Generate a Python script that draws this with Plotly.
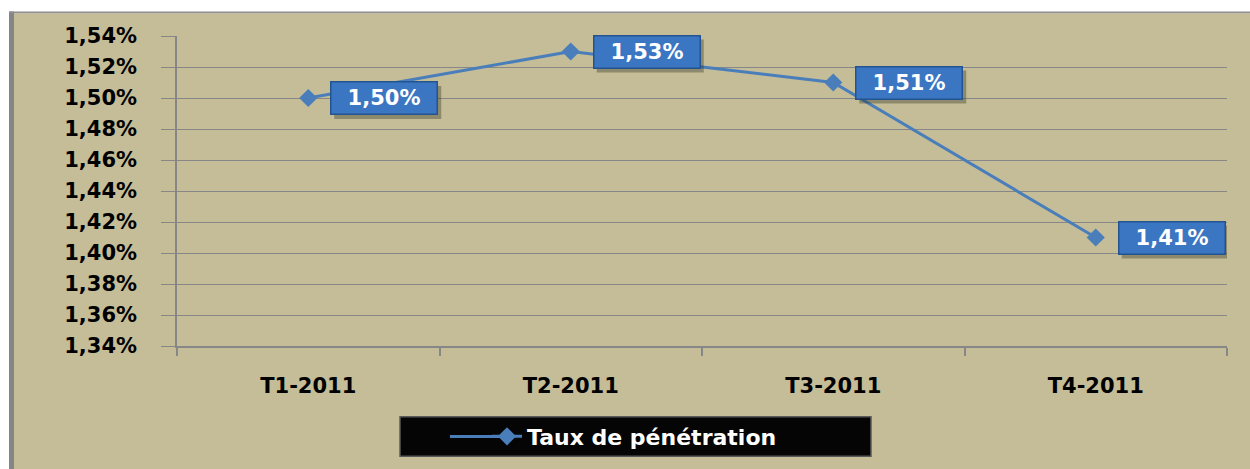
import plotly.graph_objects as go

# ---- data ----
categories = ["T1-2011", "T2-2011", "T3-2011", "T4-2011"]
values = [1.50, 1.53, 1.51, 1.41]  # percent
value_labels = ["1,50%", "1,53%", "1,51%", "1,41%"]
series_name = "Taux de pénétration"

# ---- geometry helpers (reference pixel -> paper) ----
W, H = 1250, 469
PL, PR, PT, PB = 177, 1227, 36, 351  # plot area in reference pixels
L, R, T, B = PL, W - PR, PT, H - PB
PW, PH = PR - PL, PB - PT


def fx(px):
    return (px - PL) / PW


def fy(py):
    return 1 - (py - PT) / PH


TAN = "#C4BD98"
BLUE = "#4A7EBB"
GRID = "#878787"
FONT = "DejaVu Sans"

fig = go.Figure()
fig.add_trace(go.Scatter(
    x=categories, y=values, mode="lines+markers", name=series_name,
    line=dict(color=BLUE, width=3),
    marker=dict(symbol="diamond", size=14, color=BLUE),
    cliponaxis=False,
))

shapes = [
    # tan chart background
    dict(type="rect", xref="paper", yref="paper", x0=fx(14), x1=fx(1260), y0=fy(13), y1=fy(480),
         fillcolor=TAN, line=dict(width=0), layer="below"),
    # left grey border
    dict(type="rect", xref="paper", yref="paper", x0=fx(9), x1=fx(14), y0=fy(11), y1=fy(480),
         fillcolor="#858585", line=dict(width=0), layer="below"),
    # top grey border
    dict(type="rect", xref="paper", yref="paper", x0=fx(9), x1=fx(1260), y0=fy(11), y1=fy(13),
         fillcolor="#8E8E8E", line=dict(width=0), layer="below"),
    # legend black box
    dict(type="rect", xref="paper", yref="paper", x0=fx(400), x1=fx(871), y0=fy(423), y1=fy(463),
         fillcolor="#050505", line=dict(color="#5A5A5A", width=1.5), layer="above"),
    # legend line extension
    dict(type="line", xref="paper", yref="paper", x0=fx(450), x1=fx(500), y0=fy(443), y1=fy(443),
         line=dict(color=BLUE, width=3), layer="above"),
]

for c, v, lab in zip(categories, values, value_labels):
    # soft drop shadow behind each label box
    shapes.append(dict(
        type="rect", xref="x", yref="y", xsizemode="pixel", ysizemode="pixel",
        xanchor=c, yanchor=v, x0=26, x1=133, y0=-21, y1=12,
        fillcolor="rgba(40,40,30,0.35)", line=dict(width=0), layer="above",
    ))
    fig.add_annotation(
        x=c, y=v, xref="x", yref="y", text=lab, showarrow=False,
        xanchor="left", yanchor="middle", xshift=22,
        width=103, height=29, borderpad=1,
        bgcolor="#3B76C2", bordercolor="#24548F", borderwidth=1.5,
        font=dict(family=FONT, size=21, color="white", weight="bold"),
    )

fig.update_layout(
    width=W, height=H,
    margin=dict(l=L, r=R, t=T, b=B, pad=0),
    paper_bgcolor="white",
    plot_bgcolor="rgba(0,0,0,0)",
    separators=", ",
    shapes=shapes,
    showlegend=True,
    legend=dict(
        orientation="h", x=fx(487), xanchor="left", y=fy(443), yanchor="middle",
        bgcolor="rgba(0,0,0,0)", borderwidth=0,
        font=dict(family=FONT, size=22, color="white", weight="bold"),
        itemwidth=30,
    ),
    xaxis=dict(
        type="category", range=[-0.5, 3.5],
        showgrid=False, showline=True, linecolor=GRID, linewidth=1.5,
        ticks="outside", tickson="boundaries", ticklen=8, tickcolor=GRID, tickwidth=1.5,
        ticklabelstandoff=20,
        tickfont=dict(family=FONT, size=21, color="black", weight="bold"),
    ),
    yaxis=dict(
        range=[1.34, 1.54], dtick=0.02, tick0=1.34, tickformat=".2f", ticksuffix="%",
        showgrid=True, gridcolor=GRID, gridwidth=1.2,
        showline=True, linecolor=GRID, linewidth=1.5,
        ticks="outside", ticklen=14, tickcolor=GRID, tickwidth=1.2,
        ticklabelstandoff=20, zeroline=False,
        tickfont=dict(family=FONT, size=21, color="black", weight="bold"),
    ),
)

fig.write_html(
    "out.html",
    config={"displayModeBar": False},
    post_script="document.body.style.margin='0';document.body.style.overflow='hidden';",
)
